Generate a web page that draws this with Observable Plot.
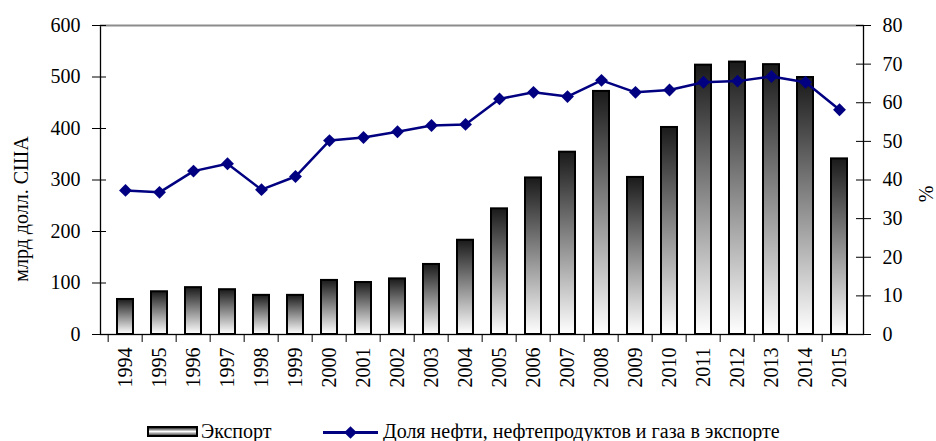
<!DOCTYPE html>
<html>
<head>
<meta charset="utf-8">
<script src="https://cdn.jsdelivr.net/npm/d3@7"></script>
<script src="https://cdn.jsdelivr.net/npm/@observablehq/plot@0.6"></script>
<style>
  body { margin: 0; background: #fff; font-family: "Liberation Serif", "Times New Roman", serif; }
  #chart { position: relative; width: 936px; height: 441px; overflow: hidden; }
  #chart svg { display: block; }
  .abs { position: absolute; white-space: nowrap; color: #000; font-size: 20px; line-height: 20px; }
  .ytitle { transform: translate(-50%, -50%) rotate(-90deg); }
  .swatch-bar { position: absolute; box-sizing: border-box; border: 2px solid #000;
    background: linear-gradient(to bottom, #333 0%, #fff 50%, #555 100%); }
  .swatch-line { position: absolute; height: 2.5px; background: #000080; }
  .swatch-diamond { position: absolute; width: 9px; height: 9px; background: #000080; transform: rotate(45deg); }
</style>
</head>
<body>
<div id="chart"></div>
<script>
// ---- data ----
const years = ["1994","1995","1996","1997","1998","1999","2000","2001","2002","2003","2004",
               "2005","2006","2007","2008","2009","2010","2011","2012","2013","2014","2015"];
const exportValues = [68, 83, 91, 87, 76, 76, 105, 101, 108, 136, 183,
                      244, 304, 354, 472, 305, 402, 523, 529, 524, 499, 341];
const oilGasShare = [37.3, 36.8, 42.3, 44.2, 37.5, 40.9, 50.2, 51.0, 52.5, 54.1, 54.4,
                     61.0, 62.7, 61.6, 65.8, 62.7, 63.3, 65.3, 65.6, 66.8, 65.3, 58.2];
const leftTicks = [0, 100, 200, 300, 400, 500, 600];
const rightTicks = [0, 10, 20, 30, 40, 50, 60, 70, 80];
const leftTitle = "млрд долл. США";
const rightTitle = "%";
const seriesNames = ["Экспорт", "Доля нефти, нефтепродуктов и газа в экспорте"];

// ---- chart ----
const ratio = 600 / 80; // right axis (%) to left axis units
const data = years.map((y, i) => ({ year: y, exp: exportValues[i], share: oilGasShare[i] }));

const W = 936, H = 410, mL = 100, mR = 73, mT = 25, mB = 76;
const step = (W - mL - mR) / years.length;

const svg = Plot.plot({
  width: W, height: H,
  marginLeft: mL, marginRight: mR, marginTop: mT, marginBottom: mB,
  style: { fontFamily: "Liberation Serif, Times New Roman, serif", fontSize: "20px", color: "#000", background: "#fff", overflow: "visible" },
  x: { domain: years, paddingInner: 0.54, paddingOuter: 0.27, label: null },
  y: { domain: [0, 600], label: null },
  marks: [
    Plot.barY(data, { x: "year", y: "exp", fill: "url(#barGrad)", stroke: "#000", strokeWidth: 2 }),
    Plot.frame({ stroke: "#000", strokeWidth: 1.3 }),
    Plot.ruleY([600], { stroke: "#8c8c8c", strokeWidth: 1.5 }),
    // left axis
    Plot.axisY({ anchor: "left", ticks: leftTicks, tickSize: 14, dx: 6, tickFormat: () => "", label: null, stroke: "#000" }),
    Plot.axisY({ anchor: "left", ticks: leftTicks, tickSize: 0, tickPadding: 20, label: null }),
    // right axis (percent)
    Plot.axisY({ anchor: "right", ticks: rightTicks.map(t => t * ratio), tickSize: 15, dx: -8, tickFormat: () => "", label: null, stroke: "#000" }),
    Plot.axisY({ anchor: "right", ticks: rightTicks.map(t => t * ratio), tickSize: 0, tickPadding: 19, tickFormat: d => d3.format("d")(d / ratio), label: null }),
    // x axis: boundary ticks + rotated labels
    Plot.axisX({ ticks: years, tickSize: 8, dx: -step / 2, tickFormat: () => "", label: null, stroke: "#000" }),
    Plot.axisX({ ticks: years, tickSize: 0, tickPadding: 13, tickRotate: -90, label: null }),
    // share line
    Plot.line(data, { x: "year", y: d => d.share * ratio, stroke: "#000080", strokeWidth: 2.5 }),
    Plot.dot(data, { x: "year", y: d => d.share * ratio, symbol: "diamond2", r: 5.8, fill: "#000080", stroke: "none" })
  ]
});

const defs = d3.select(svg).insert("defs", ":first-child");
const grad = defs.append("linearGradient").attr("id", "barGrad")
  .attr("x1", 0).attr("y1", 0).attr("x2", 0).attr("y2", 1);
grad.append("stop").attr("offset", "0%").attr("stop-color", "#1a1a1a");
grad.append("stop").attr("offset", "100%").attr("stop-color", "#ffffff");

const chart = document.getElementById("chart");
chart.appendChild(svg);

function addDiv(cls, text, style) {
  const d = document.createElement("div");
  d.className = cls;
  if (text != null) d.textContent = text;
  Object.assign(d.style, style);
  chart.appendChild(d);
  return d;
}
// axis titles
addDiv("abs ytitle", leftTitle, { left: "21px", top: "209px" });
addDiv("abs ytitle", rightTitle, { left: "926px", top: "194px", lineHeight: "14px" });
// legend
addDiv("swatch-bar", null, { left: "147px", top: "426px", width: "51px", height: "11px" });
addDiv("abs", seriesNames[0], { left: "201px", top: "421px" });
addDiv("swatch-line", null, { left: "323px", top: "431px", width: "55px" });
addDiv("swatch-diamond", null, { left: "346px", top: "427.5px" });
addDiv("abs", seriesNames[1], { left: "383px", top: "421px" });
</script>
</body>
</html>
